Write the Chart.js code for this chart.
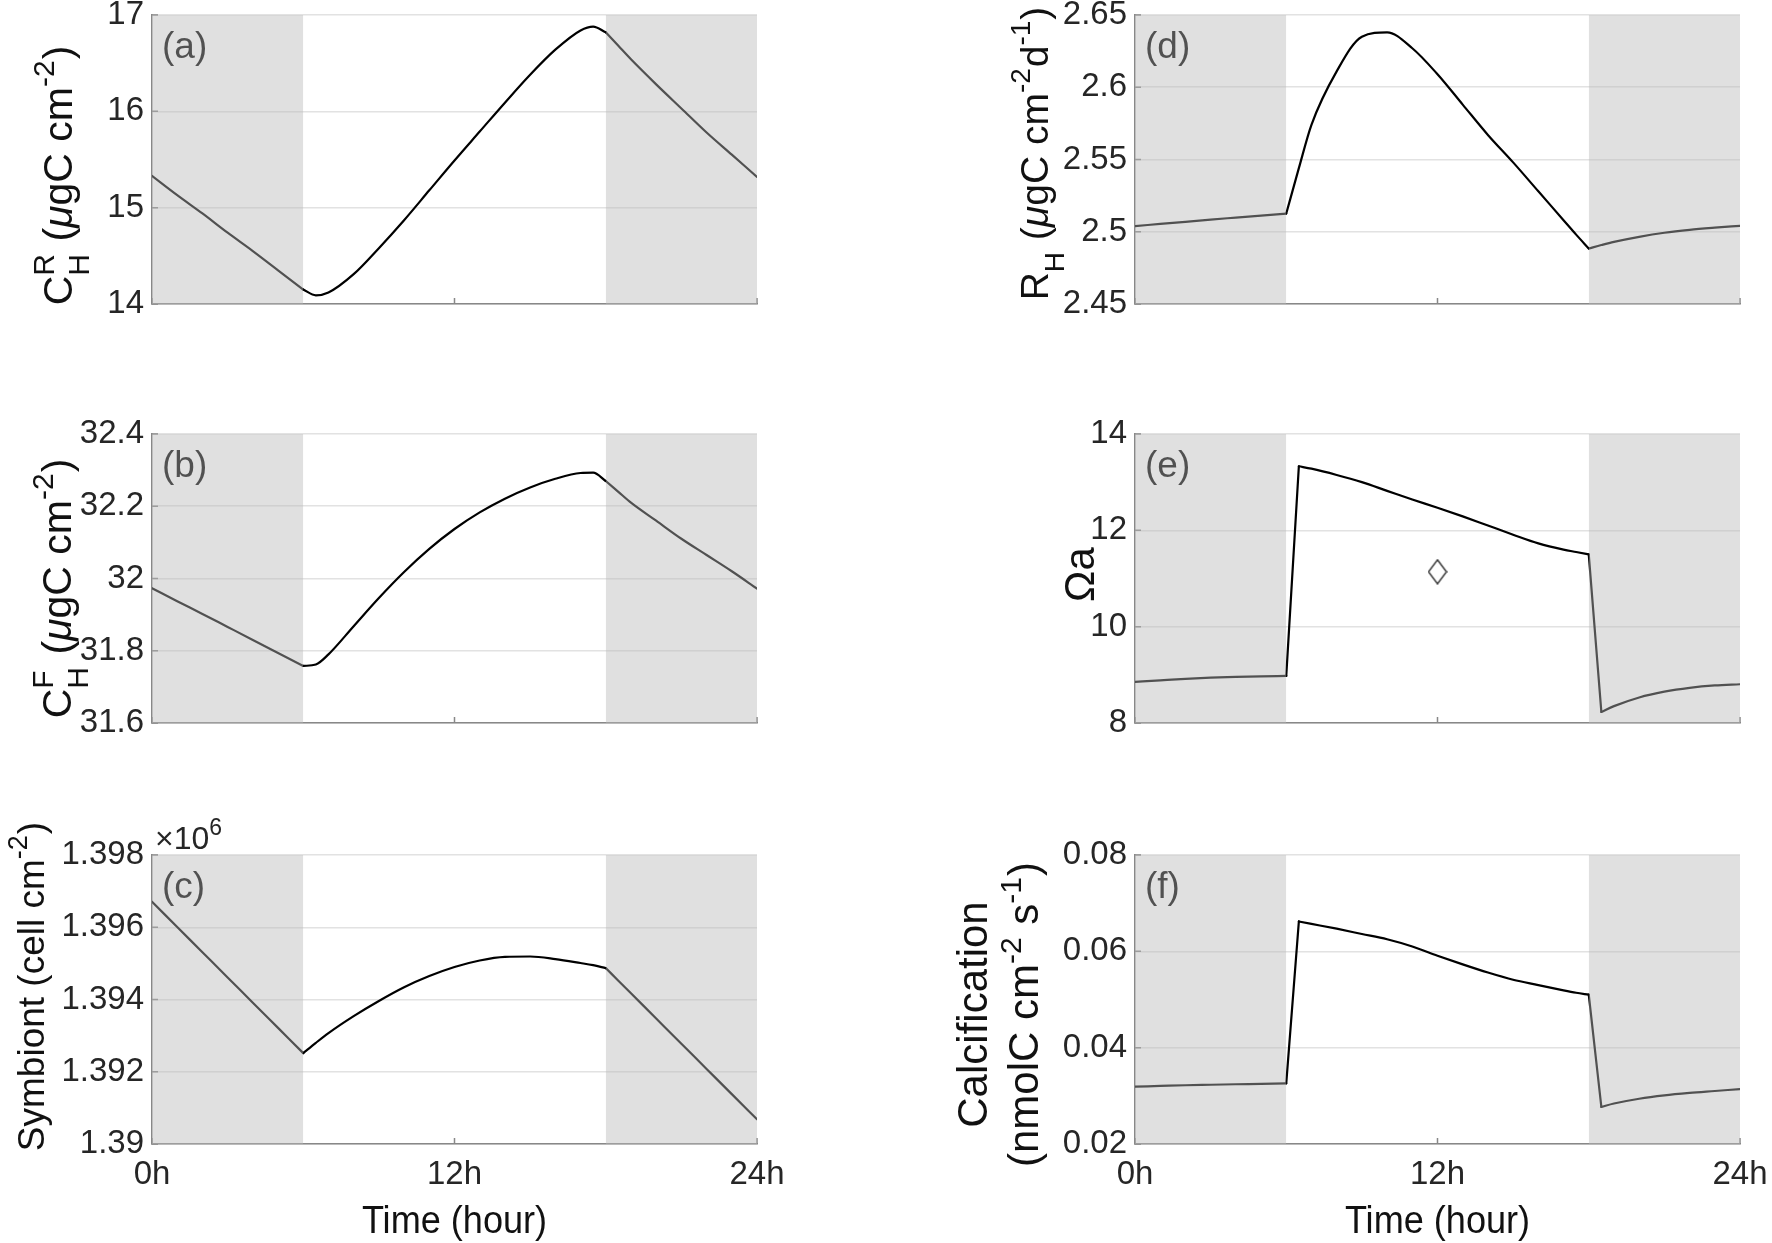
<!DOCTYPE html>
<html>
<head>
<meta charset="utf-8">
<script src="https://cdn.jsdelivr.net/npm/chart.js@4/dist/chart.umd.min.js"></script>
<style>
html,body{margin:0;padding:0;background:#fff;}
#wrap{position:relative;width:1772px;height:1243px;overflow:hidden;background:#fff;}
#wrap canvas{position:absolute;left:0;top:0;}
</style>
</head>
<body>
<div id="wrap"></div>
<script>
// ---------------- data ----------------
const hours = [0,1,2,3,4,5,6,6.5,7,8,9,10,11,12,13,14,15,16,17,17.5,18,18.5,19,20,21,22,23,24];

const carbonReserve = [15.33,15.13,14.94,14.74,14.55,14.35,14.15,14.09,14.12,14.31,14.58,14.87,15.18,15.49,15.79,16.09,16.38,16.64,16.84,16.88,16.82,16.68,16.54,16.28,16.03,15.78,15.55,15.32];
const carbonFree = [31.973,31.937,31.902,31.866,31.830,31.794,31.758,31.762,31.790,31.868,31.946,32.018,32.082,32.137,32.183,32.221,32.252,32.276,32.292,32.293,32.270,32.240,32.210,32.160,32.110,32.065,32.020,31.972];
const symbiont = [1396705,1396007,1395309,1394611,1393912,1393214,1392516,1392800,1393070,1393540,1393960,1394340,1394650,1394900,1395080,1395180,1395190,1395120,1395010,1394950,1394870,1394521,1394172,1393474,1392776,1392078,1391380,1390684];
const respiration = [2.5039,2.5054,2.5069,2.5084,2.5098,2.5112,2.5126,2.544,2.574,2.611,2.635,2.638,2.627,2.609,2.588,2.567,2.548,2.528,2.508,2.498,2.4884,2.4908,2.4930,2.4965,2.4993,2.5013,2.5028,2.5041];
const omega = [8.853,8.885,8.916,8.940,8.957,8.969,8.978,13.33,13.28,13.15,13.00,12.82,12.64,12.47,12.29,12.10,11.91,11.73,11.60,11.55,11.50,8.23,8.35,8.53,8.65,8.73,8.78,8.805];
const calcification = [0.0319,0.03205,0.0322,0.0323,0.0324,0.0325,0.0326,0.0662,0.0657,0.0647,0.0636,0.0625,0.0610,0.0591,0.0573,0.0556,0.0541,0.0530,0.0519,0.0514,0.0510,0.0277,0.0284,0.0294,0.0301,0.0306,0.0310,0.0314];

const omegaMeanHour = [12];
const omegaMean = [11.14];

const nightStart = [0, 18];
const nightEnd = [6, 24];

const xTicks = [0, 12, 24];
const xTickLabels = ['0h', '12h', '24h'];

const yTicksA = [14, 15, 16, 17];
const yLabelsA = ['14', '15', '16', '17'];
const yTicksB = [31.6, 31.8, 32, 32.2, 32.4];
const yLabelsB = ['31.6', '31.8', '32', '32.2', '32.4'];
const yTicksC = [1390000, 1392000, 1394000, 1396000, 1398000];
const yLabelsC = ['1.39', '1.392', '1.394', '1.396', '1.398'];
const yTicksD = [2.45, 2.5, 2.55, 2.6, 2.65];
const yLabelsD = ['2.45', '2.5', '2.55', '2.6', '2.65'];
const yTicksE = [8, 10, 12, 14];
const yLabelsE = ['8', '10', '12', '14'];
const yTicksF = [0.02, 0.04, 0.06, 0.08];
const yLabelsF = ['0.02', '0.04', '0.06', '0.08'];

// hours at which a curve has a corner (pieces between them are drawn smoothly)
const cornersSmooth = [6, 18];
const cornersJump = [6, 6.5, 18, 18.5];

// ---------------- style / layout ----------------
const W = 1772, H = 1243;
const FONT = '"Liberation Sans", Arial, Helvetica, sans-serif';
const SHADE = 'rgba(184,184,184,0.44)';
const AXIS = '#888888';
const GRID = '#e2e2e2';
const TICK = '#262626';
const TITLE = '#111111';
const TICK_SIZE = 33;
const Y_AXIS_W = 152;
const colLeft = [152, 1135], colRight = [757, 1740];
const rowTop = [15, 434, 855], rowBottom = [304, 723, 1144];

Chart.defaults.font.family = FONT;

const diamond = document.createElement('canvas');
diamond.width = 20; diamond.height = 26;
(function(){
  const dc = diamond.getContext('2d');
  dc.strokeStyle = '#333'; dc.lineWidth = 1.4;
  dc.beginPath(); dc.moveTo(10,1); dc.lineTo(19,13); dc.lineTo(10,25); dc.lineTo(1,13); dc.closePath(); dc.stroke();
})();

function drawRich(ctx, segs, ox, oy, opt) {
  const F = opt.size, fs = Math.round(F * 0.72);
  const main = it => (it ? 'italic ' : '') + F + 'px ' + FONT;
  const small = fs + 'px ' + FONT;
  ctx.save();
  ctx.translate(ox, oy);
  if (opt.rotate) ctx.rotate(-Math.PI / 2);
  if (opt.sx) ctx.scale(opt.sx, 1);
  ctx.fillStyle = opt.color || TITLE;
  ctx.textBaseline = 'alphabetic';
  ctx.textAlign = 'left';
  const ws = segs.map(s => {
    if (s.t !== undefined) { ctx.font = main(s.italic); return ctx.measureText(s.t).width; }
    ctx.font = small;
    let w = 0;
    if (s.sup) w = Math.max(w, ctx.measureText(s.sup).width);
    if (s.sub) w = Math.max(w, ctx.measureText(s.sub).width);
    return w + 1;
  });
  const total = ws.reduce((a, b) => a + b, 0);
  let x = opt.align === 'left' ? 0 : -total / 2;
  segs.forEach((s, i) => {
    if (s.t !== undefined) { ctx.font = main(s.italic); ctx.fillText(s.t, x, 0); }
    else {
      ctx.font = small;
      if (s.sup) ctx.fillText(s.sup, x, -F * (opt.supRaise || 0.45));
      if (s.sub) ctx.fillText(s.sub, x, F * 0.42);
    }
    x += ws[i];
  });
  ctx.restore();
}

const panels = [
  {key:'a', col:0, row:0, series:carbonReserve, yTicks:yTicksA, yLabels:yLabelsA, label:'(a)', corners:cornersSmooth,
   titleSize:41, titleDy:16,
   titles:[{x:72, segs:[{t:'C'},{sup:'R',sub:'H'},{t:' ('},{t:'\u03bc',italic:true},{t:'gC cm'},{sup:'-2'},{t:')'}]}]},
  {key:'b', col:0, row:1, series:carbonFree, yTicks:yTicksB, yLabels:yLabelsB, label:'(b)', corners:cornersSmooth,
   titleSize:41, titleDy:10,
   titles:[{x:71, segs:[{t:'C'},{sup:'F',sub:'H'},{t:' ('},{t:'\u03bc',italic:true},{t:'gC cm'},{sup:'-2'},{t:')'}]}]},
  {key:'c', col:0, row:2, series:symbiont, yTicks:yTicksC, yLabels:yLabelsC, label:'(c)', corners:cornersSmooth, exponent:true,
   titleSize:37, titleDy:-13,
   titles:[{x:44, segs:[{t:'Symbiont (cell cm'},{sup:'-2'},{t:')'}]}]},
  {key:'d', col:1, row:0, series:respiration, yTicks:yTicksD, yLabels:yLabelsD, label:'(d)', corners:cornersSmooth,
   titleSize:39, titleDy:-6,
   titles:[{x:1048, segs:[{t:'R'},{sub:'H'},{t:' ('},{t:'\u03bc',italic:true},{t:'gC cm'},{sup:'-2'},{t:'d'},{sup:'-1'},{t:')'}]}]},
  {key:'e', col:1, row:1, series:omega, yTicks:yTicksE, yLabels:yLabelsE, label:'(e)', corners:cornersJump, marker:true,
   titleSize:42, titleDy:-4,
   titles:[{x:1094, segs:[{t:'\u03a9a'}]}]},
  {key:'f', col:1, row:2, series:calcification, yTicks:yTicksF, yLabels:yLabelsF, label:'(f)', corners:cornersJump,
   titleSize:42, titleDy:15, supRaise:0.4,
   titles:[{x:987, segs:[{t:'Calcification'}]}, {x:1038, segs:[{t:'(nmolC cm'},{sup:'-2'},{t:' s'},{sup:'-1'},{t:')'}]}]}
];

function decor(p) {
  return {
    id: 'decor' + p.key,
    beforeDatasetsDraw(chart) {
      const {ctx, chartArea: a, scales: {x, y}} = chart;
      ctx.save();
      ctx.strokeStyle = AXIS; ctx.lineWidth = 1.5;
      ctx.beginPath();
      p.yTicks.forEach(v => { const py = y.getPixelForValue(v); ctx.moveTo(a.left, py); ctx.lineTo(a.left + 6, py); });
      xTicks.forEach(v => { const px = x.getPixelForValue(v); ctx.moveTo(px, a.bottom); ctx.lineTo(px, a.bottom - 6); });
      ctx.stroke();
      ctx.fillStyle = '#000';
      ctx.font = '37px ' + FONT;
      ctx.textBaseline = 'middle'; ctx.textAlign = 'left';
      ctx.fillText(p.label, a.left + 10, a.top + 33);
      ctx.restore();
    },
    afterDraw(chart) {
      const {ctx, chartArea: a} = chart;
      const cy = (a.top + a.bottom) / 2 + p.titleDy;
      p.titles.forEach(l => drawRich(ctx, l.segs, l.x, cy, {size: p.titleSize, rotate: true, supRaise: p.supRaise}));
      if (p.row === 2) drawRich(ctx, [{t: 'Time (hour)'}], (a.left + a.right) / 2, 1233, {size: 38, sx: 0.95});
      if (p.exponent) drawRich(ctx, [{t: '\u00d710'}, {sup: '6'}], a.left + 3, a.top - 6, {size: 32, align: 'left', color: TICK});
    }
  };
}

const wrap = document.getElementById('wrap');

panels.forEach(p => {
  const canvas = document.createElement('canvas');
  canvas.width = W; canvas.height = H;
  canvas.style.width = W + 'px'; canvas.style.height = H + 'px';
  wrap.appendChild(canvas);
  const yMin = p.yTicks[0], yMax = p.yTicks[p.yTicks.length - 1];
  const left = colLeft[p.col], right = colRight[p.col], top = rowTop[p.row], bottom = rowBottom[p.row];
  const bottomRow = p.row === 2;
  const xAxisH = bottomRow ? H - bottom : 8;

  const datasets = [];
  const cuts = [0].concat(p.corners.map(c => hours.indexOf(c)), [hours.length - 1]);
  for (let k = 0; k < cuts.length - 1; k++) {
    const idx = [];
    for (let i = cuts[k]; i <= cuts[k + 1]; i++) idx.push(i);
    datasets.push({
      label: 'series', data: idx.map(i => ({x: hours[i], y: p.series[i]})),
      borderColor: '#000', borderWidth: 2.2, pointRadius: 0, fill: false,
      cubicInterpolationMode: 'monotone', borderCapStyle: 'round', borderJoinStyle: 'round', order: 0
    });
  }
  nightStart.forEach((s, k) => datasets.push({
    label: 'night', data: [{x: s, y: yMax}, {x: nightEnd[k], y: yMax}],
    borderColor: 'rgba(0,0,0,0)', borderWidth: 0, backgroundColor: SHADE, fill: 'start', pointRadius: 0, order: -1
  }));
  if (p.marker) datasets.push({
    label: 'mean', data: omegaMeanHour.map((h, i) => ({x: h, y: omegaMean[i]})),
    showLine: false, pointStyle: diamond, pointRadius: 10, borderColor: '#333', backgroundColor: 'rgba(0,0,0,0)', order: -2
  });

  new Chart(canvas, {
    type: 'line',
    data: {datasets},
    options: {
      responsive: false, animation: false, events: [], devicePixelRatio: 1,
      layout: {padding: {left: left - Y_AXIS_W, right: W - right, top: top, bottom: H - bottom - xAxisH}},
      plugins: {legend: {display: false}, tooltip: {enabled: false}},
      scales: {
        x: {
          type: 'linear', min: 0, max: 24,
          afterBuildTicks: s => { s.ticks = xTicks.map(v => ({value: v})); },
          afterFit: s => { s.height = xAxisH; s.paddingLeft = 0; s.paddingRight = 0; },
          grid: {display: false, drawTicks: false},
          border: {display: true, color: AXIS, width: 1.5},
          ticks: {display: bottomRow, padding: 11, color: TICK, font: {size: TICK_SIZE}, maxRotation: 0, autoSkip: false,
                  callback: (v, i) => xTickLabels[i]}
        },
        y: {
          type: 'linear', min: yMin, max: yMax,
          afterBuildTicks: s => { s.ticks = p.yTicks.map(v => ({value: v})); },
          afterFit: s => { s.width = Y_AXIS_W; s.paddingTop = 0; s.paddingBottom = 0; },
          grid: {color: GRID, lineWidth: 1.5, drawTicks: false},
          border: {display: true, color: AXIS, width: 1.5},
          ticks: {padding: 8, color: TICK, font: {size: TICK_SIZE}, autoSkip: false,
                  callback: (v, i) => p.yLabels[i]}
        }
      }
    },
    plugins: [decor(p)]
  });
});
</script>
</body>
</html>
